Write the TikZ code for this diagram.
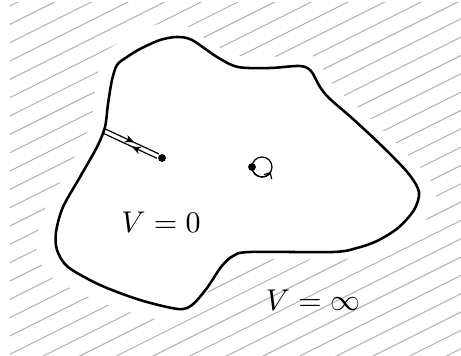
\documentclass[tikz,border=0pt]{standalone}
\usetikzlibrary{arrows.meta,calc,decorations.markings}
\newcommand{\wallpath}{plot[smooth cycle] coordinates {(112,80) (117,65) (127,57) (140,49) (160,40) (177,37) (192,40) (217,57) (238,67) (270,68) (300,66) (311,71) (320,87) (330,99) (353,119) (383,147) (408,173) (419,192) (414,210) (398,228) (377,241) (357,248) (333,252) (250,252) (233,256) (221,267) (207,288) (192,305) (178,309) (140,300) (100,285) (68,267) (57,250) (56,232) (63,207) (80,177) (97,147) (105,127) (108,104)}}
\begin{document}
\begin{tikzpicture}[x=.3333pt,y=-.3333pt,
  dot/.style={circle,fill,inner sep=0pt,minimum size=2.6pt},
  hatch/.style={gray!60,line width=.35pt},
  midarrow/.style={postaction=decorate,decoration={markings,mark=at position #1 with {\arrow{Stealth[length=3pt,width=2.6pt]}}}}]
\useasboundingbox (0,0) rectangle (461,356);
\begin{scope}
\clip (10,3) rectangle (461,356);
\foreach \k [evaluate=\k as \c using 11+18.33*\k] in {0,...,32}
  \draw[hatch] (0,\c) -- (470,\c-235);
\end{scope}
\fill[white,scale around={1.1:(245,180)}] \wallpath;
\draw[line width=.85pt] \wallpath;
\node[dot] (src) at (162,158) {};
\node[dot] (spin) at (252,167) {};
\coordinate (wallpt) at (104,131);
\draw[midarrow=.5,shorten >=1.5pt] ($(wallpt)!.8pt!90:(src)$) -- ($(src)!.8pt!-90:(wallpt)$);
\draw[midarrow=.5,shorten <=1.5pt] ($(src)!.8pt!90:(wallpt)$) -- ($(wallpt)!.8pt!-90:(src)$);
\draw (spin.center) arc[start angle=180,end angle=-180,radius=10];
\draw[-{Straight Barb[length=1.6pt,width=3pt]}] (spin.center) arc[start angle=180,end angle=30,radius=10];
\node (inside) at (161,222) {$V=0$};
\node (outside) at (313,300) {$V=\infty$};
\end{tikzpicture}
\end{document}
